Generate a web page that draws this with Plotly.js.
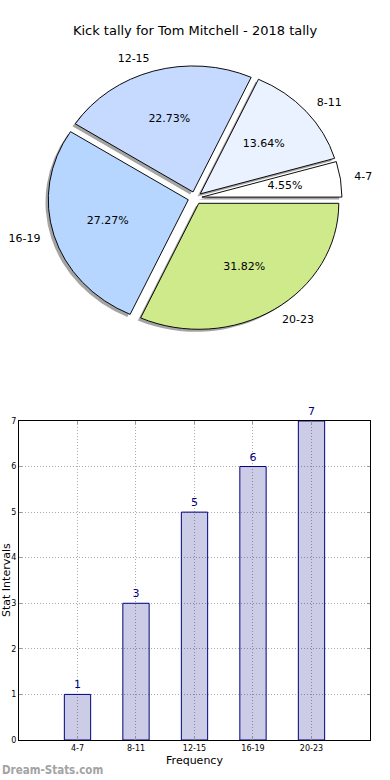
<!DOCTYPE html>
<html><head><meta charset="utf-8">
<script src="https://cdn.plot.ly/plotly-3.0.1.min.js"></script>
<style>html,body{margin:0;padding:0;background:#fff}
#wrap{position:relative;width:390px;height:780px}
#chart,#pie,#overlay{position:absolute;left:0;top:0;width:390px;height:780px}
#pie,#overlay{pointer-events:none}</style>
</head><body><div id="wrap"><div id="chart"></div><div id="pie"></div><div id="overlay"></div></div>
<script>
const categories = ['4-7', '8-11', '12-15', '16-19', '20-23'];
const counts = [1, 3, 5, 6, 7];
const sliceColors = ['#ffffff', '#eaf2ff', '#c6d9ff', '#b7d6ff', '#cfea8b'];
const yTicks = [0, 1, 2, 3, 4, 5, 6, 7];
const titleText = 'Kick tally for Tom Mitchell - 2018 tally';
const watermark = 'Dream-Stats.com';

const FONT = 'DejaVu Sans, sans-serif';
const W = 390, H = 780;
const total = counts.reduce((a, b) => a + b, 0);
const explode = 0.05;
const pull = categories.map(() => explode);

// pie geometry (pixels): centre and horizontal / vertical radii (elliptical, as in the reference)
const pcx = 195, pcy = 198, rx = 140, ry = 126;
const half = rx * (1 + explode);
function dom(cx, cy, h) {
  return {x: [(cx - h) / W, (cx + h) / W], y: [1 - (cy + h) / H, 1 - (cy - h) / H]};
}
const pieDom = dom(pcx, pcy, half);
const shadowDom = dom(pcx - 0.02 * rx, pcy + 0.02 * rx, half);

// slice mid angles derived from the data (counterclockwise from 3 o'clock)
const midAngles = [];
let acc = 0;
counts.forEach(v => { midAngles.push((acc + v / 2) / total * 2 * Math.PI); acc += v; });
const pctText = counts.map(v => (v / total * 100).toFixed(2) + '%');

function ring(d) {
  return {
    x: midAngles.map(a => (explode + d) * Math.cos(a)),
    y: midAngles.map(a => (explode + d) * Math.sin(a))
  };
}
const pctPts = ring(0.6), labPts = ring(1.1);

const common = {
  type: 'pie', labels: categories, values: counts, sort: false,
  direction: 'counterclockwise', rotation: 90 - 360 * counts[0] / total, pull: pull,
  hoverinfo: 'skip', showlegend: false, automargin: false, textinfo: 'none'
};

const shadow = Object.assign({}, common, {
  domain: shadowDom,
  marker: {colors: categories.map(() => 'rgba(90,90,90,0.55)'), line: {width: 0}}
});

const pieMain = Object.assign({}, common, {
  domain: pieDom,
  marker: {colors: sliceColors, line: {color: '#000', width: 1}}
});

const pctTrace = {
  type: 'scatter', mode: 'text', x: pctPts.x, y: pctPts.y, text: pctText,
  textposition: 'middle center',
  textfont: {family: FONT, size: 11, color: '#000'},
  hoverinfo: 'skip', showlegend: false, cliponaxis: false
};

const labelTrace = {
  type: 'scatter', mode: 'text', x: labPts.x, y: labPts.y, text: categories,
  textposition: labPts.x.map(v => v >= 0 ? 'middle right' : 'middle left'),
  textfont: {family: FONT, size: 11, color: '#000'},
  hoverinfo: 'skip', showlegend: false, cliponaxis: false
};

const bars = {
  type: 'bar', x: categories, y: counts, xaxis: 'x', yaxis: 'y',
  width: 0.45,
  marker: {color: 'rgba(0,0,128,0.2)', line: {color: '#000080', width: 1}},
  text: counts.map(String), textposition: 'outside', cliponaxis: false,
  textfont: {family: FONT, size: 11, color: '#000080'},
  hoverinfo: 'skip', showlegend: false
};

const gridStyle = {showgrid: true, gridcolor: '#aaa', griddash: '1px,2px', gridwidth: 1};

const layout = {
  width: W, height: H,
  margin: {l: 0, r: 0, t: 0, b: 0},
  paper_bgcolor: '#fff', plot_bgcolor: '#fff',
  font: {family: FONT, color: '#000'},
  title: {text: titleText, font: {family: FONT, size: 13, color: '#000'}, x: 0.5, xanchor: 'center', y: 1 - 30 / H, yanchor: 'middle'},
  xaxis: Object.assign({
    domain: [0.0487, 0.9487], type: 'category', range: [-1, 5],
    showline: true, linecolor: '#000', linewidth: 1, mirror: 'ticks',
    ticks: 'inside', ticklen: 3, tickcolor: '#999',
    tickfont: {family: FONT, size: 8, color: '#000'},
    title: {text: 'Frequency', font: {family: FONT, size: 11, color: '#000'}, standoff: 4},
    zeroline: false, fixedrange: true
  }, gridStyle),
  yaxis: Object.assign({
    domain: [0.0513, 0.4603], range: [0, 7], tickvals: yTicks,
    showline: true, linecolor: '#000', linewidth: 1, mirror: 'ticks',
    ticks: 'inside', ticklen: 3, tickcolor: '#999',
    tickfont: {family: FONT, size: 8, color: '#000'},
    zeroline: false, fixedrange: true
  }, gridStyle),
  annotations: [{
    text: 'Stat Intervals', xref: 'paper', yref: 'paper', x: 6.5 / W, y: (0.0513 + 0.4603) / 2,
    xanchor: 'center', yanchor: 'middle', textangle: -90, showarrow: false,
    font: {family: FONT, size: 11, color: '#000'}
  }, {
    text: '<b>' + watermark + '</b>', xref: 'paper', yref: 'paper', x: 0, y: 10 / H,
    xanchor: 'left', yanchor: 'middle', showarrow: false,
    font: {family: 'DejaVu Sans Condensed, DejaVu Sans, sans-serif', size: 11.5, color: '#a3a3a3'}
  }]
};

const pieLayout = {
  width: W, height: H, margin: {l: 0, r: 0, t: 0, b: 0},
  paper_bgcolor: 'rgba(0,0,0,0)', plot_bgcolor: 'rgba(0,0,0,0)'
};

// text overlay: unit radius = rx px horizontally, ry px vertically, centred on the pie
const overlayLayout = {
  width: W, height: H, margin: {l: 0, r: 0, t: 0, b: 0},
  paper_bgcolor: 'rgba(0,0,0,0)', plot_bgcolor: 'rgba(0,0,0,0)',
  font: {family: FONT, color: '#000'},
  xaxis: {range: [-pcx / rx, (W - pcx) / rx], visible: false, fixedrange: true},
  yaxis: {range: [-(H - pcy) / ry, pcy / ry], visible: false, fixedrange: true}
};

const pieDiv = document.getElementById('pie');
pieDiv.style.transformOrigin = pcx + 'px ' + pcy + 'px';
pieDiv.style.transform = 'scaleY(' + (ry / rx) + ')';

Plotly.newPlot('chart', [bars], layout, {displayModeBar: false, staticPlot: true});
Plotly.newPlot('pie', [shadow, pieMain], pieLayout, {displayModeBar: false, staticPlot: true});
Plotly.newPlot('overlay', [pctTrace, labelTrace], overlayLayout, {displayModeBar: false, staticPlot: true});
</script></body></html>
